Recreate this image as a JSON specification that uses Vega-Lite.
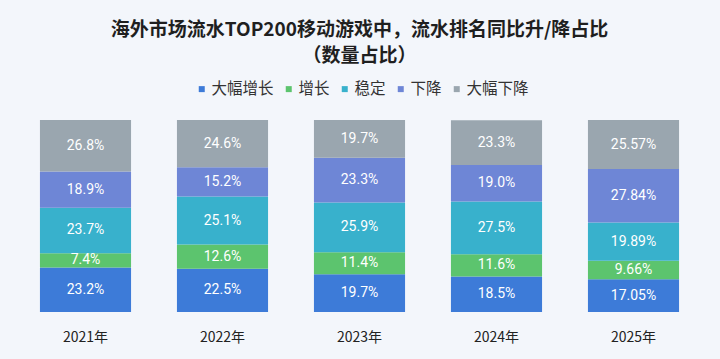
{
  "$schema": "https://vega.github.io/schema/vega-lite/v6.json",
  "width": 685,
  "height": 192,
  "autosize": {"type": "none"},
  "padding": {"left": 17, "top": 120, "right": 18, "bottom": 47},
  "background": "#F3F6FB",
  "title": {
    "text": ["海外市场流水TOP200移动游戏中，流水排名同比升/降占比", "（数量占比）"],
    "anchor": "middle",
    "fontSize": 19,
    "fontWeight": "bold",
    "color": "#1F1F1F",
    "font": "Noto Sans CJK SC",
    "lineHeight": 26,
    "offset": 15
  },
  "config": {"view": {"stroke": null}, "font": "Noto Sans CJK SC"},
  "data": {
    "values": [
      {"year": "2021年", "cat": "大幅增长", "k": 1, "value": 23.2, "label": "23.2%"},
      {"year": "2021年", "cat": "增长", "k": 2, "value": 7.4, "label": "7.4%"},
      {"year": "2021年", "cat": "稳定", "k": 3, "value": 23.7, "label": "23.7%"},
      {"year": "2021年", "cat": "下降", "k": 4, "value": 18.9, "label": "18.9%"},
      {"year": "2021年", "cat": "大幅下降", "k": 5, "value": 26.8, "label": "26.8%"},
      {"year": "2022年", "cat": "大幅增长", "k": 1, "value": 22.5, "label": "22.5%"},
      {"year": "2022年", "cat": "增长", "k": 2, "value": 12.6, "label": "12.6%"},
      {"year": "2022年", "cat": "稳定", "k": 3, "value": 25.1, "label": "25.1%"},
      {"year": "2022年", "cat": "下降", "k": 4, "value": 15.2, "label": "15.2%"},
      {"year": "2022年", "cat": "大幅下降", "k": 5, "value": 24.6, "label": "24.6%"},
      {"year": "2023年", "cat": "大幅增长", "k": 1, "value": 19.7, "label": "19.7%"},
      {"year": "2023年", "cat": "增长", "k": 2, "value": 11.4, "label": "11.4%"},
      {"year": "2023年", "cat": "稳定", "k": 3, "value": 25.9, "label": "25.9%"},
      {"year": "2023年", "cat": "下降", "k": 4, "value": 23.3, "label": "23.3%"},
      {"year": "2023年", "cat": "大幅下降", "k": 5, "value": 19.7, "label": "19.7%"},
      {"year": "2024年", "cat": "大幅增长", "k": 1, "value": 18.5, "label": "18.5%"},
      {"year": "2024年", "cat": "增长", "k": 2, "value": 11.6, "label": "11.6%"},
      {"year": "2024年", "cat": "稳定", "k": 3, "value": 27.5, "label": "27.5%"},
      {"year": "2024年", "cat": "下降", "k": 4, "value": 19.0, "label": "19.0%"},
      {"year": "2024年", "cat": "大幅下降", "k": 5, "value": 23.3, "label": "23.3%"},
      {"year": "2025年", "cat": "大幅增长", "k": 1, "value": 17.05, "label": "17.05%"},
      {"year": "2025年", "cat": "增长", "k": 2, "value": 9.66, "label": "9.66%"},
      {"year": "2025年", "cat": "稳定", "k": 3, "value": 19.89, "label": "19.89%"},
      {"year": "2025年", "cat": "下降", "k": 4, "value": 27.84, "label": "27.84%"},
      {"year": "2025年", "cat": "大幅下降", "k": 5, "value": 25.57, "label": "25.57%"}
    ]
  },
  "transform": [
    {"stack": "value", "groupby": ["year"], "sort": [{"field": "k", "order": "ascending"}], "as": ["y0", "y1"]}
  ],
  "encoding": {
    "x": {
      "field": "year",
      "type": "nominal",
      "scale": {"paddingInner": 0.335, "paddingOuter": 0.1675},
      "axis": {
        "title": null,
        "domain": false,
        "ticks": false,
        "labelAngle": 0,
        "labelFontSize": 14,
        "labelColor": "#222222",
        "labelPadding": 18,
        "labelFont": "Noto Sans CJK SC"
      }
    }
  },
  "layer": [
    {
      "mark": {"type": "bar"},
      "encoding": {
        "y": {"field": "y0", "type": "quantitative", "scale": {"domain": [0, 100], "nice": false}, "axis": null},
        "y2": {"field": "y1"},
        "color": {
          "field": "cat",
          "type": "nominal",
          "scale": {
            "domain": ["大幅增长", "增长", "稳定", "下降", "大幅下降"],
            "range": ["#3D7BD8", "#5CC46E", "#38B1CC", "#6E86D6", "#9AA6AF"]
          },
          "legend": {
            "title": null,
            "orient": "none",
            "direction": "horizontal",
            "legendX": 177,
            "legendY": -39,
            "symbolType": "square",
            "symbolSize": 36,
            "labelFontSize": 15.5,
            "labelColor": "#333333",
            "labelFont": "Noto Sans CJK SC",
            "columnPadding": 7,
            "labelOffset": 2
          }
        }
      }
    },
    {
      "transform": [{"fold": ["y0", "y1"], "as": ["key", "v"]}],
      "mark": {"type": "text", "color": "white", "fontSize": 14, "font": "Roboto", "baseline": "middle"},
      "encoding": {
        "y": {"aggregate": "mean", "field": "v", "type": "quantitative"},
        "detail": {"field": "cat"},
        "text": {"field": "label"}
      }
    }
  ]
}
